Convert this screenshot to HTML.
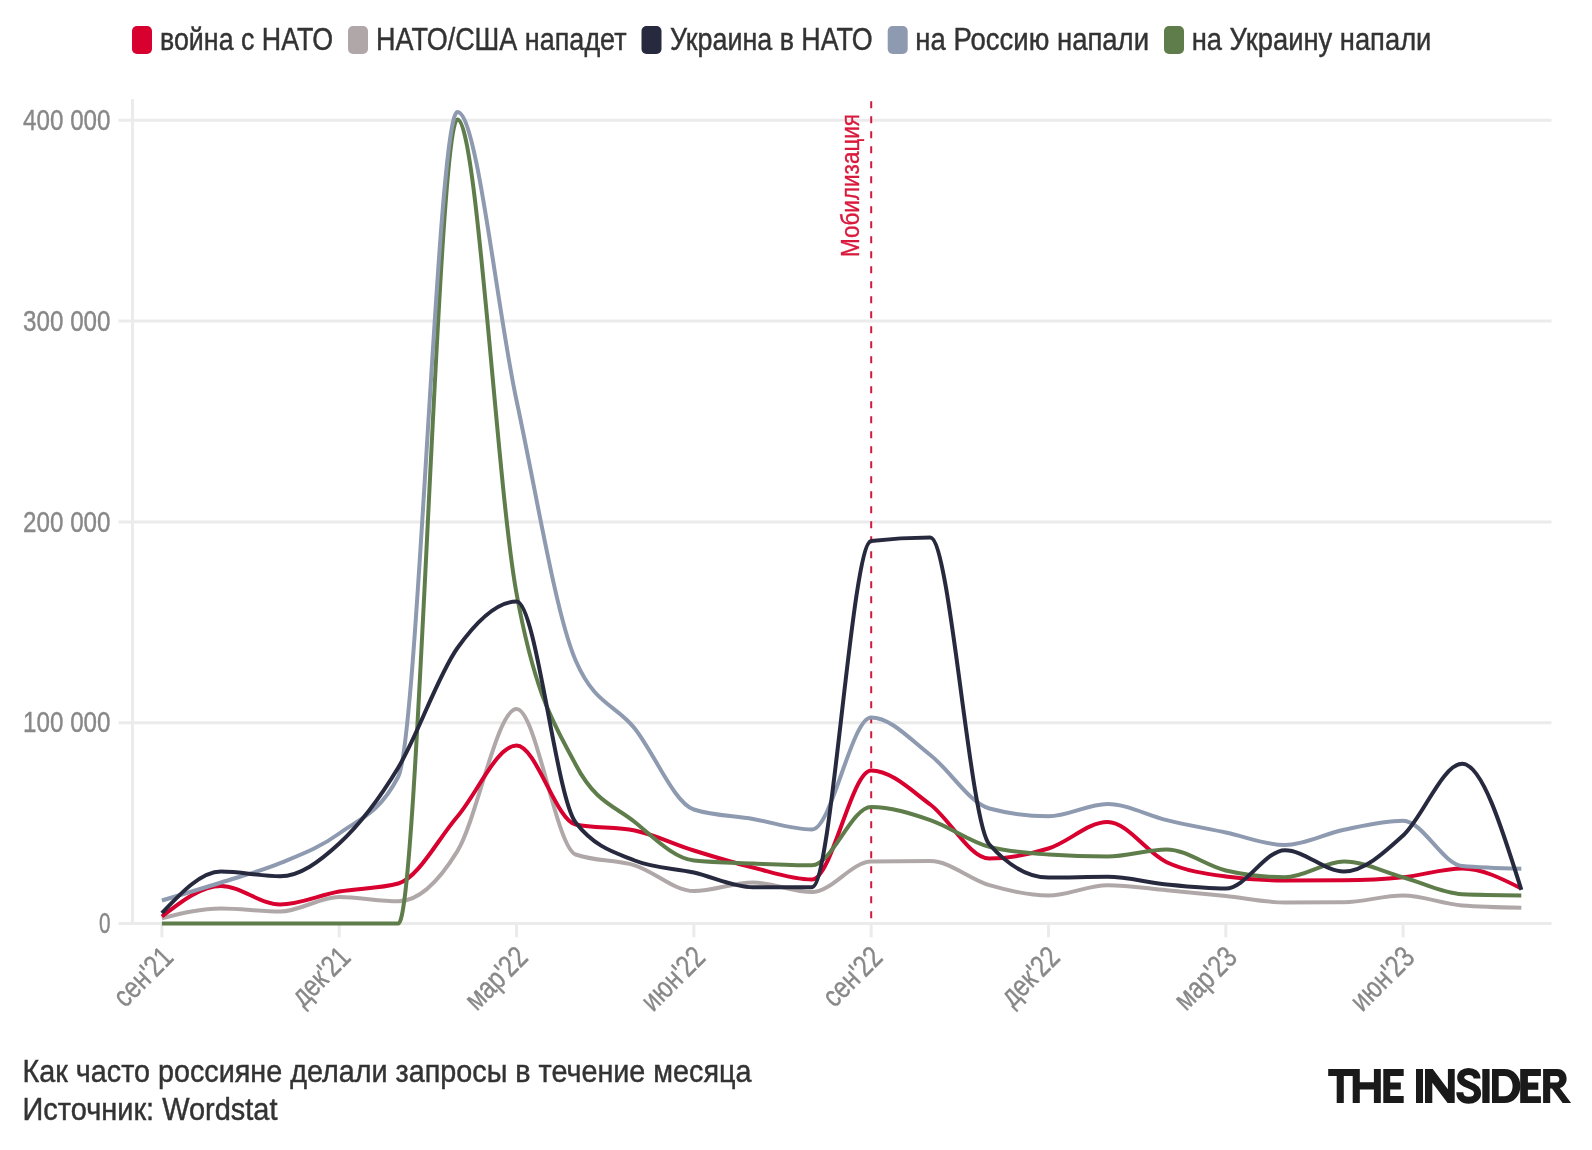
<!DOCTYPE html><html><head><meta charset="utf-8"><style>html,body{margin:0;padding:0;background:#fff;width:1592px;height:1150px;overflow:hidden}svg{display:block;will-change:transform}text{font-family:"Liberation Sans",sans-serif}</style></head><body>
<svg width="1592" height="1150" viewBox="0 0 1592 1150">
<rect width="1592" height="1150" fill="#fff"/>
<rect x="132.0" y="26" width="20" height="28" rx="5" fill="#d7002f"/>
<text x="160.0" y="49.6" font-size="31" fill="#333" stroke="#333" stroke-width="0.45" textLength="173.0" lengthAdjust="spacingAndGlyphs">война с НАТО</text>
<rect x="348.0" y="26" width="20" height="28" rx="5" fill="#b0a8a8"/>
<text x="376.0" y="49.6" font-size="31" fill="#333" stroke="#333" stroke-width="0.45" textLength="250.6" lengthAdjust="spacingAndGlyphs">НАТО/США нападет</text>
<rect x="641.5" y="26" width="20" height="28" rx="5" fill="#272a3f"/>
<text x="670.0" y="49.6" font-size="31" fill="#333" stroke="#333" stroke-width="0.45" textLength="202.6" lengthAdjust="spacingAndGlyphs">Украина в НАТО</text>
<rect x="887.7" y="26" width="20" height="28" rx="5" fill="#8e9ab0"/>
<text x="915.3" y="49.6" font-size="31" fill="#333" stroke="#333" stroke-width="0.45" textLength="233.7" lengthAdjust="spacingAndGlyphs">на Россию напали</text>
<rect x="1164.0" y="26" width="20" height="28" rx="5" fill="#5f7d4b"/>
<text x="1191.7" y="49.6" font-size="31" fill="#333" stroke="#333" stroke-width="0.45" textLength="239.7" lengthAdjust="spacingAndGlyphs">на Украину напали</text>
<line x1="118.5" y1="923.50" x2="1551.5" y2="923.50" stroke="#ebebeb" stroke-width="3"/>
<text x="110.5" y="933.10" font-size="30" fill="#888" stroke="#888" stroke-width="0.4" text-anchor="end" textLength="11.5" lengthAdjust="spacingAndGlyphs">0</text>
<line x1="118.5" y1="722.70" x2="1551.5" y2="722.70" stroke="#ebebeb" stroke-width="3"/>
<text x="110.5" y="732.30" font-size="30" fill="#888" stroke="#888" stroke-width="0.4" text-anchor="end" textLength="87.4" lengthAdjust="spacingAndGlyphs">100 000</text>
<line x1="118.5" y1="521.90" x2="1551.5" y2="521.90" stroke="#ebebeb" stroke-width="3"/>
<text x="110.5" y="531.50" font-size="30" fill="#888" stroke="#888" stroke-width="0.4" text-anchor="end" textLength="87.4" lengthAdjust="spacingAndGlyphs">200 000</text>
<line x1="118.5" y1="321.10" x2="1551.5" y2="321.10" stroke="#ebebeb" stroke-width="3"/>
<text x="110.5" y="330.70" font-size="30" fill="#888" stroke="#888" stroke-width="0.4" text-anchor="end" textLength="87.4" lengthAdjust="spacingAndGlyphs">300 000</text>
<line x1="118.5" y1="120.30" x2="1551.5" y2="120.30" stroke="#ebebeb" stroke-width="3"/>
<text x="110.5" y="129.90" font-size="30" fill="#888" stroke="#888" stroke-width="0.4" text-anchor="end" textLength="87.4" lengthAdjust="spacingAndGlyphs">400 000</text>
<line x1="132.5" y1="99" x2="132.5" y2="923" stroke="#ebebeb" stroke-width="3"/>
<line x1="161.90" y1="924.5" x2="161.90" y2="937.3" stroke="#ebebeb" stroke-width="3"/>
<text transform="translate(174.90,959) rotate(-45)" font-size="30" fill="#888" stroke="#888" stroke-width="0.4" text-anchor="end" textLength="70.1" lengthAdjust="spacingAndGlyphs">сен'21</text>
<line x1="339.22" y1="924.5" x2="339.22" y2="937.3" stroke="#ebebeb" stroke-width="3"/>
<text transform="translate(352.22,959) rotate(-45)" font-size="30" fill="#888" stroke="#888" stroke-width="0.4" text-anchor="end" textLength="69.4" lengthAdjust="spacingAndGlyphs">дек'21</text>
<line x1="516.53" y1="924.5" x2="516.53" y2="937.3" stroke="#ebebeb" stroke-width="3"/>
<text transform="translate(529.53,959) rotate(-45)" font-size="30" fill="#888" stroke="#888" stroke-width="0.4" text-anchor="end" textLength="74.7" lengthAdjust="spacingAndGlyphs">мар'22</text>
<line x1="693.84" y1="924.5" x2="693.84" y2="937.3" stroke="#ebebeb" stroke-width="3"/>
<text transform="translate(706.84,959) rotate(-45)" font-size="30" fill="#888" stroke="#888" stroke-width="0.4" text-anchor="end" textLength="76.2" lengthAdjust="spacingAndGlyphs">июн'22</text>
<line x1="871.16" y1="924.5" x2="871.16" y2="937.3" stroke="#ebebeb" stroke-width="3"/>
<text transform="translate(884.16,959) rotate(-45)" font-size="30" fill="#888" stroke="#888" stroke-width="0.4" text-anchor="end" textLength="70.1" lengthAdjust="spacingAndGlyphs">сен'22</text>
<line x1="1048.47" y1="924.5" x2="1048.47" y2="937.3" stroke="#ebebeb" stroke-width="3"/>
<text transform="translate(1061.47,959) rotate(-45)" font-size="30" fill="#888" stroke="#888" stroke-width="0.4" text-anchor="end" textLength="69.4" lengthAdjust="spacingAndGlyphs">дек'22</text>
<line x1="1225.79" y1="924.5" x2="1225.79" y2="937.3" stroke="#ebebeb" stroke-width="3"/>
<text transform="translate(1238.79,959) rotate(-45)" font-size="30" fill="#888" stroke="#888" stroke-width="0.4" text-anchor="end" textLength="74.7" lengthAdjust="spacingAndGlyphs">мар'23</text>
<line x1="1403.11" y1="924.5" x2="1403.11" y2="937.3" stroke="#ebebeb" stroke-width="3"/>
<text transform="translate(1416.11,959) rotate(-45)" font-size="30" fill="#888" stroke="#888" stroke-width="0.4" text-anchor="end" textLength="76.2" lengthAdjust="spacingAndGlyphs">июн'23</text>
<line x1="871.2" y1="100.5" x2="871.2" y2="923" stroke="#d01a3c" stroke-width="2" stroke-dasharray="7 8" stroke-dashoffset="-0.8"/>
<text transform="translate(859,114) rotate(-90)" font-size="26" fill="#d91a3c" stroke="#d91a3c" stroke-width="0.35" text-anchor="end" textLength="143" lengthAdjust="spacingAndGlyphs">Мобилизация</text>
<path d="M161.90,918.20 C181.60,913.35 201.30,908.50 221.00,908.50 C240.71,908.50 260.41,911.50 280.11,911.50 C299.81,911.50 319.51,897.00 339.22,897.00 C358.92,897.00 378.62,901.30 398.32,901.30 C418.02,901.30 437.72,883.13 457.42,851.10 C477.13,819.07 496.83,709.10 516.53,709.10 C536.23,709.10 555.93,847.30 575.63,854.50 C595.34,861.70 615.04,859.20 634.74,865.30 C654.44,871.40 674.14,891.10 693.84,891.10 C713.55,891.10 733.25,882.50 752.95,882.50 C772.65,882.50 792.35,892.10 812.05,892.10 C831.76,892.10 851.46,861.77 871.16,861.50 C890.86,861.23 910.56,861.10 930.26,861.10 C949.97,861.10 969.67,879.47 989.37,885.20 C1009.07,890.93 1028.77,895.50 1048.47,895.50 C1068.18,895.50 1087.88,885.20 1107.58,885.20 C1127.28,885.20 1146.98,888.40 1166.68,890.20 C1186.39,892.00 1206.09,893.95 1225.79,896.00 C1245.49,898.05 1265.19,902.50 1284.89,902.50 C1304.60,902.50 1324.30,902.40 1344.00,902.20 C1363.70,902.00 1383.40,895.50 1403.11,895.50 C1422.81,895.50 1442.51,903.97 1462.21,905.50 C1481.91,907.03 1501.61,907.42 1521.32,907.80" fill="none" stroke="#b0a8a8" stroke-width="4" stroke-linejoin="round"/>
<path d="M161.90,916.50 C181.60,901.25 201.30,886.00 221.00,886.00 C240.71,886.00 260.41,904.50 280.11,904.50 C299.81,904.50 319.51,895.00 339.22,891.50 C358.92,888.00 378.62,888.83 398.32,883.50 C418.02,878.17 437.72,839.50 457.42,816.50 C477.13,793.50 496.83,745.50 516.53,745.50 C536.23,745.50 555.93,820.50 575.63,824.50 C595.34,828.50 615.04,826.50 634.74,830.50 C654.44,834.50 674.14,844.33 693.84,850.50 C713.55,856.67 733.25,862.67 752.95,867.50 C772.65,872.33 792.35,879.50 812.05,879.50 C831.76,879.50 851.46,770.50 871.16,770.50 C890.86,770.50 910.56,789.83 930.26,804.50 C949.97,819.17 969.67,858.50 989.37,858.50 C1009.07,858.50 1028.77,854.58 1048.47,848.50 C1068.18,842.42 1087.88,822.00 1107.58,822.00 C1127.28,822.00 1146.98,853.12 1166.68,862.20 C1186.39,871.28 1206.09,873.83 1225.79,876.50 C1245.49,879.17 1265.19,880.50 1284.89,880.50 C1304.60,880.50 1324.30,880.43 1344.00,880.30 C1363.70,880.17 1383.40,879.27 1403.11,877.30 C1422.81,875.33 1442.51,868.50 1462.21,868.50 C1481.91,868.50 1501.61,878.50 1521.32,888.50" fill="none" stroke="#d7002f" stroke-width="4" stroke-linejoin="round"/>
<path d="M161.90,923.50 C181.60,923.50 201.30,923.50 221.00,923.50 C240.71,923.50 260.41,923.50 280.11,923.50 C299.81,923.50 319.51,923.50 339.22,923.50 C358.92,923.50 378.62,923.50 398.32,923.50 C418.02,923.50 437.72,119.50 457.42,119.50 C477.13,119.50 496.83,486.00 516.53,593.50 C536.23,701.00 555.93,726.42 575.63,764.50 C595.34,802.58 615.04,806.00 634.74,822.00 C654.44,838.00 674.14,858.50 693.84,860.50 C713.55,862.50 733.25,862.70 752.95,863.50 C772.65,864.30 792.35,865.30 812.05,865.30 C831.76,865.30 851.46,807.00 871.16,807.00 C890.86,807.00 910.56,813.45 930.26,820.10 C949.97,826.75 969.67,841.83 989.37,846.90 C1009.07,851.97 1028.77,853.17 1048.47,854.50 C1068.18,855.83 1087.88,856.50 1107.58,856.50 C1127.28,856.50 1146.98,849.50 1166.68,849.50 C1186.39,849.50 1206.09,865.97 1225.79,870.50 C1245.49,875.03 1265.19,877.30 1284.89,877.30 C1304.60,877.30 1324.30,861.50 1344.00,861.50 C1363.70,861.50 1383.40,871.83 1403.11,877.30 C1422.81,882.77 1442.51,893.50 1462.21,894.30 C1481.91,895.10 1501.61,895.30 1521.32,895.50" fill="none" stroke="#5f7d4b" stroke-width="4" stroke-linejoin="round"/>
<path d="M161.90,900.50 C181.60,894.62 201.30,888.73 221.00,882.50 C240.71,876.27 260.41,871.27 280.11,863.10 C299.81,854.93 319.51,847.93 339.22,833.50 C358.92,819.07 378.62,814.50 398.32,776.50 C418.02,738.50 437.72,112.00 457.42,112.00 C477.13,112.00 496.83,309.08 516.53,400.50 C536.23,491.92 555.93,615.17 575.63,660.50 C595.34,705.83 615.04,703.67 634.74,728.50 C654.44,753.33 674.14,803.17 693.84,809.50 C713.55,815.83 733.25,815.67 752.95,819.00 C772.65,822.33 792.35,829.50 812.05,829.50 C831.76,829.50 851.46,717.50 871.16,717.50 C890.86,717.50 910.56,739.83 930.26,755.00 C949.97,770.17 969.67,803.30 989.37,808.50 C1009.07,813.70 1028.77,816.30 1048.47,816.30 C1068.18,816.30 1087.88,804.00 1107.58,804.00 C1127.28,804.00 1146.98,815.35 1166.68,820.10 C1186.39,824.85 1206.09,828.35 1225.79,832.50 C1245.49,836.65 1265.19,845.00 1284.89,845.00 C1304.60,845.00 1324.30,833.83 1344.00,829.80 C1363.70,825.77 1383.40,820.80 1403.11,820.80 C1422.81,820.80 1442.51,864.20 1462.21,866.00 C1481.91,867.80 1501.61,868.25 1521.32,868.70" fill="none" stroke="#8e9ab0" stroke-width="4" stroke-linejoin="round"/>
<path d="M161.90,913.10 C181.60,892.30 201.30,871.50 221.00,871.50 C240.71,871.50 260.41,876.30 280.11,876.30 C299.81,876.30 319.51,861.63 339.22,843.50 C358.92,825.37 378.62,800.08 398.32,767.50 C418.02,734.92 437.72,675.67 457.42,648.00 C477.13,620.33 496.83,601.50 516.53,601.50 C536.23,601.50 555.93,797.17 575.63,822.50 C595.34,847.83 615.04,852.50 634.74,860.50 C654.44,868.50 674.14,868.05 693.84,872.50 C713.55,876.95 733.25,887.20 752.95,887.20 C772.65,887.20 792.35,887.20 812.05,887.20 C831.76,887.20 851.46,543.33 871.16,541.00 C890.86,538.67 910.56,537.50 930.26,537.50 C949.97,537.50 969.67,822.50 989.37,844.50 C1009.07,866.50 1028.77,877.50 1048.47,877.50 C1068.18,877.50 1087.88,876.80 1107.58,876.80 C1127.28,876.80 1146.98,882.55 1166.68,884.50 C1186.39,886.45 1206.09,888.50 1225.79,888.50 C1245.49,888.50 1265.19,850.20 1284.89,850.20 C1304.60,850.20 1324.30,871.50 1344.00,871.50 C1363.70,871.50 1383.40,853.45 1403.11,835.50 C1422.81,817.55 1442.51,763.80 1462.21,763.80 C1481.91,763.80 1501.61,826.80 1521.32,889.80" fill="none" stroke="#272a3f" stroke-width="4" stroke-linejoin="round"/>
<text x="22.5" y="1081.7" font-size="31" fill="#333" stroke="#333" stroke-width="0.45" textLength="729" lengthAdjust="spacingAndGlyphs">Как часто россияне делали запросы в течение месяца</text>
<text x="22.5" y="1119.5" font-size="31" fill="#333" stroke="#333" stroke-width="0.45" textLength="255" lengthAdjust="spacingAndGlyphs">Источник: Wordstat</text>
<g fill="#1a1a1a">
<path d="M1328.2,1069H1354V1076H1343.8V1103H1336.7V1076H1328.2Z"/>
<path d="M1352.7,1069H1359.8V1082.2H1373.9V1069H1380.8V1103H1373.9V1089.4H1359.8V1103H1352.7Z"/>
<path d="M1383.3,1069H1403.7V1076H1390.2V1082.4H1400.8V1089.6H1390.2V1096.1H1403.7V1103H1383.3Z"/>
<rect x="1416" y="1069" width="7" height="34"/>
<path d="M1425,1069H1432.8L1447.9,1089.2V1069H1454.7V1103H1447.6L1432.3,1082.7V1103H1425Z"/>
<path d="M1477,1078.6C1477,1074 1473.5,1071.4 1468.6,1071.4C1463.6,1071.4 1460.7,1074 1460.7,1077.5C1460.7,1081.5 1464,1083 1469,1085C1474.5,1087 1477.6,1089 1477.6,1093.2C1477.6,1097.6 1473.6,1100.3 1468.6,1100.3C1463,1100.3 1459.8,1097 1459.8,1092.2" fill="none" stroke="#1a1a1a" stroke-width="7"/>
<rect x="1482.3" y="1069" width="7.3" height="34"/>
<path fill-rule="evenodd" d="M1492,1069H1504.5C1513.8,1069 1520.4,1076.5 1520.4,1086C1520.4,1095.5 1513.8,1103 1504.5,1103H1492Z M1498.7,1075.9V1096.2H1504.5C1509.5,1096.2 1512.6,1091.5 1512.6,1086C1512.6,1080.5 1509.5,1075.9 1504.5,1075.9Z"/>
<path d="M1520.2,1069H1540.9V1075.9H1527.9V1082.4H1538.3V1089.7H1527.9V1096.2H1540.9V1103H1520.2Z"/>
<path fill-rule="evenodd" d="M1543.1,1069H1557.5C1563.2,1069 1566.6,1073.5 1566.6,1078.8C1566.6,1083.3 1564,1086.8 1559.8,1088L1571.1,1103H1562.6L1552,1088.6H1550.2V1103H1543.1Z M1550.2,1075.9V1082.6H1556.5C1558.3,1082.6 1559.3,1081 1559.3,1079.2C1559.3,1077.4 1558.3,1075.9 1556.5,1075.9Z"/>
</g>
</svg></body></html>
